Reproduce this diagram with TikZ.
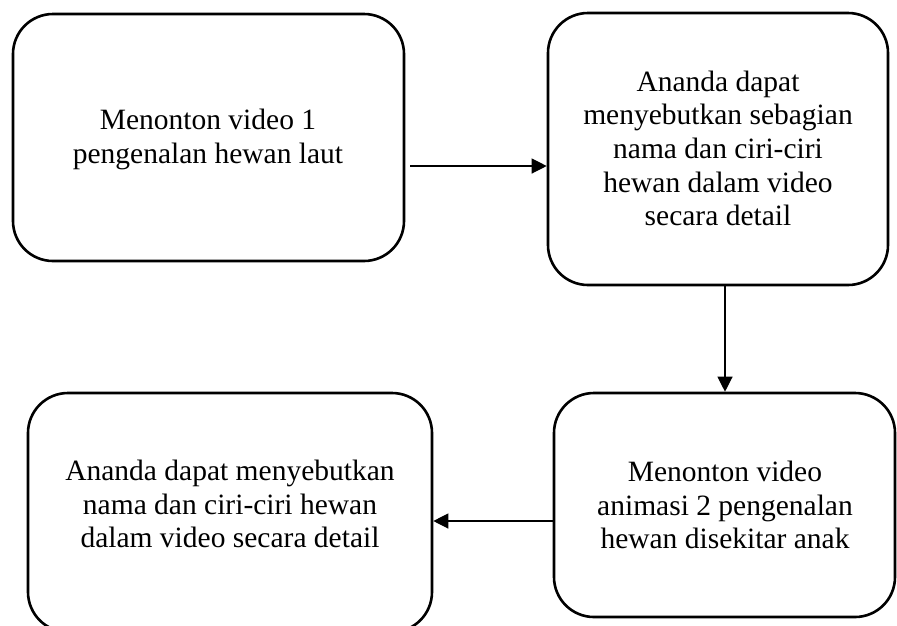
\documentclass[tikz,border=0pt]{standalone}
\usepackage{fontspec}
\setmainfont{Liberation Serif}
\usetikzlibrary{arrows.meta}
\begin{document}
\begin{tikzpicture}[x=1pt,y=-1pt,
  box/.style={draw=black, line width=2.6pt, rounded corners=40pt, inner sep=0pt},
  txt/.style={align=center, inner sep=0pt, font=\fontsize{29.5}{33.7}\selectfont},
  arr/.style={draw=black, line width=1.2pt, -{Triangle[length=15pt,width=15pt]}}]
\clip (0,0) rectangle (897,625);
\fill[white] (0,0) rectangle (897,625);
\node[box, minimum width=391pt, minimum height=247pt] (b1) at (208.5,137.5) {};
\node[box, minimum width=340pt, minimum height=272pt] (b2) at (718,149) {};
\node[box, minimum width=341pt, minimum height=224pt] (b3) at (724.5,505) {};
\node[box, minimum width=404pt, minimum height=239pt] (b4) at (230,512.5) {};
\node[txt] (t1) at (208,139.5) {Menonton video 1\\pengenalan hewan laut};
\node[txt] (t2) at (718,148.5) {Ananda dapat\\menyebutkan sebagian\\nama dan ciri-ciri\\hewan dalam video\\secara detail};
\node[txt] (t3) at (725,505) {Menonton video\\animasi 2 pengenalan\\hewan disekitar anak};
\node[txt] (t4) at (230,504) {Ananda dapat menyebutkan\\nama dan ciri-ciri hewan\\dalam video secara detail};
\coordinate (a1) at (0,166);
\coordinate (a2) at (725,0);
\coordinate (a3) at (0,521);
\draw[arr, shorten <=5pt] (b1.east |- a1) -- (b2.west |- a1);
\draw[arr, shorten <=-1pt] (a2 |- b2.south) -- (a2 |- b3.north);
\draw[arr] (b3.west |- a3) -- (b4.east |- a3);
\end{tikzpicture}
\end{document}
